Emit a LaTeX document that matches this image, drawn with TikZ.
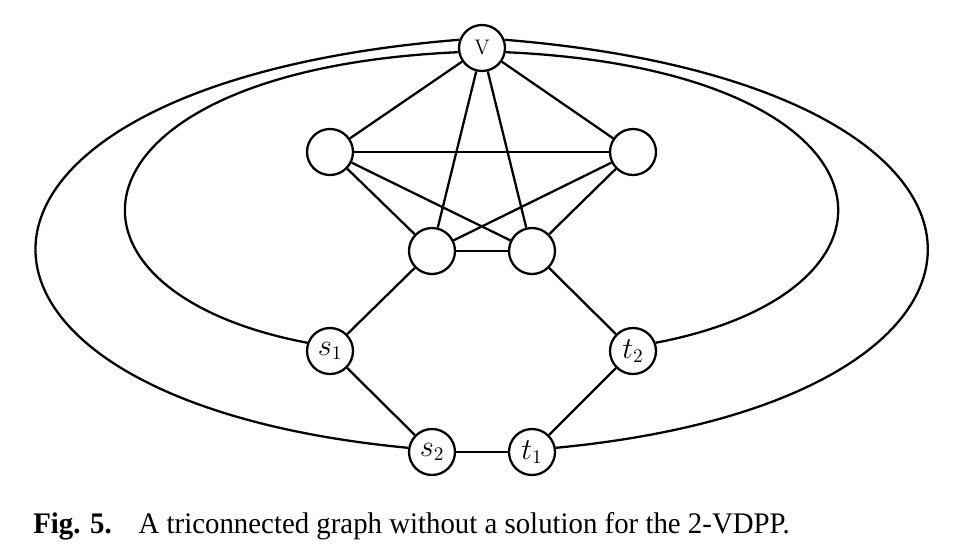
\documentclass[tikz,border=0pt]{standalone}
\usepackage{fontspec}
\usepackage{amsmath,amssymb}
\usepackage{tikz}
\usetikzlibrary{positioning}
\newfontfamily\capfont[FakeStretch=0.965]{Liberation Serif}

\begin{document}
\begin{tikzpicture}[
    x=0.2mm, y=-0.2mm,
    vert/.style = {circle, draw=black, fill=white, line width=1.3pt, minimum size=9.2mm, inner sep=0pt, font=\fontsize{16}{18}\selectfont},
    edge/.style = {draw=black, line width=1.3pt}
]
\useasboundingbox (0,0) rectangle (961,547);

\node (v)  [vert, font=\fontsize{12}{14}\selectfont] at (482,48) {V};
\node (ul) [vert] at (330,152) {};
\node (ur) [vert] at (633,152) {};
\node (il) [vert] at (432,251) {};
\node (ir) [vert] at (532,251) {};
\node (s1) [vert] at (330,351) {$s_1$};
\node (t2) [vert] at (633,351) {$t_2$};
\node (s2) [vert] at (432,452) {$s_2$};
\node (t1) [vert] at (532,452) {$t_1$};

% the K5 part
\draw [edge] (v) -- (ul);
\draw [edge] (v) -- (ur);
\draw [edge] (v) -- (il);
\draw [edge] (v) -- (ir);
\draw [edge] (ul) -- (ur);
\draw [edge] (ul) -- (il);
\draw [edge] (ul) -- (ir);
\draw [edge] (ur) -- (il);
\draw [edge] (ur) -- (ir);
\draw [edge] (il) -- (ir);

% the bottom path
\draw [edge] (il) -- (s1);
\draw [edge] (ir) -- (t2);
\draw [edge] (s1) -- (s2);
\draw [edge] (s2) -- (t1);
\draw [edge] (t1) -- (t2);

% long loops round the sides
\draw [edge] (v.160) .. controls (-97,85) and (-97,400) .. (s2.170);
\draw [edge] (v.190) .. controls (60,70) and (30,290) .. (s1.160);
\draw [edge] (v.20) .. controls (1060,85) and (1060,400) .. (t1.10);
\draw [edge] (v.-10) .. controls (903,70) and (933,290) .. (t2.20);

\node (cap) [anchor=base west, inner sep=0pt, font=\capfont\fontsize{17}{20}\selectfont] at (33,533)
    {\textbf{Fig. 5.}\hspace{0.9em}A triconnected graph without a solution for the 2-VDPP.};

\end{tikzpicture}
\end{document}
